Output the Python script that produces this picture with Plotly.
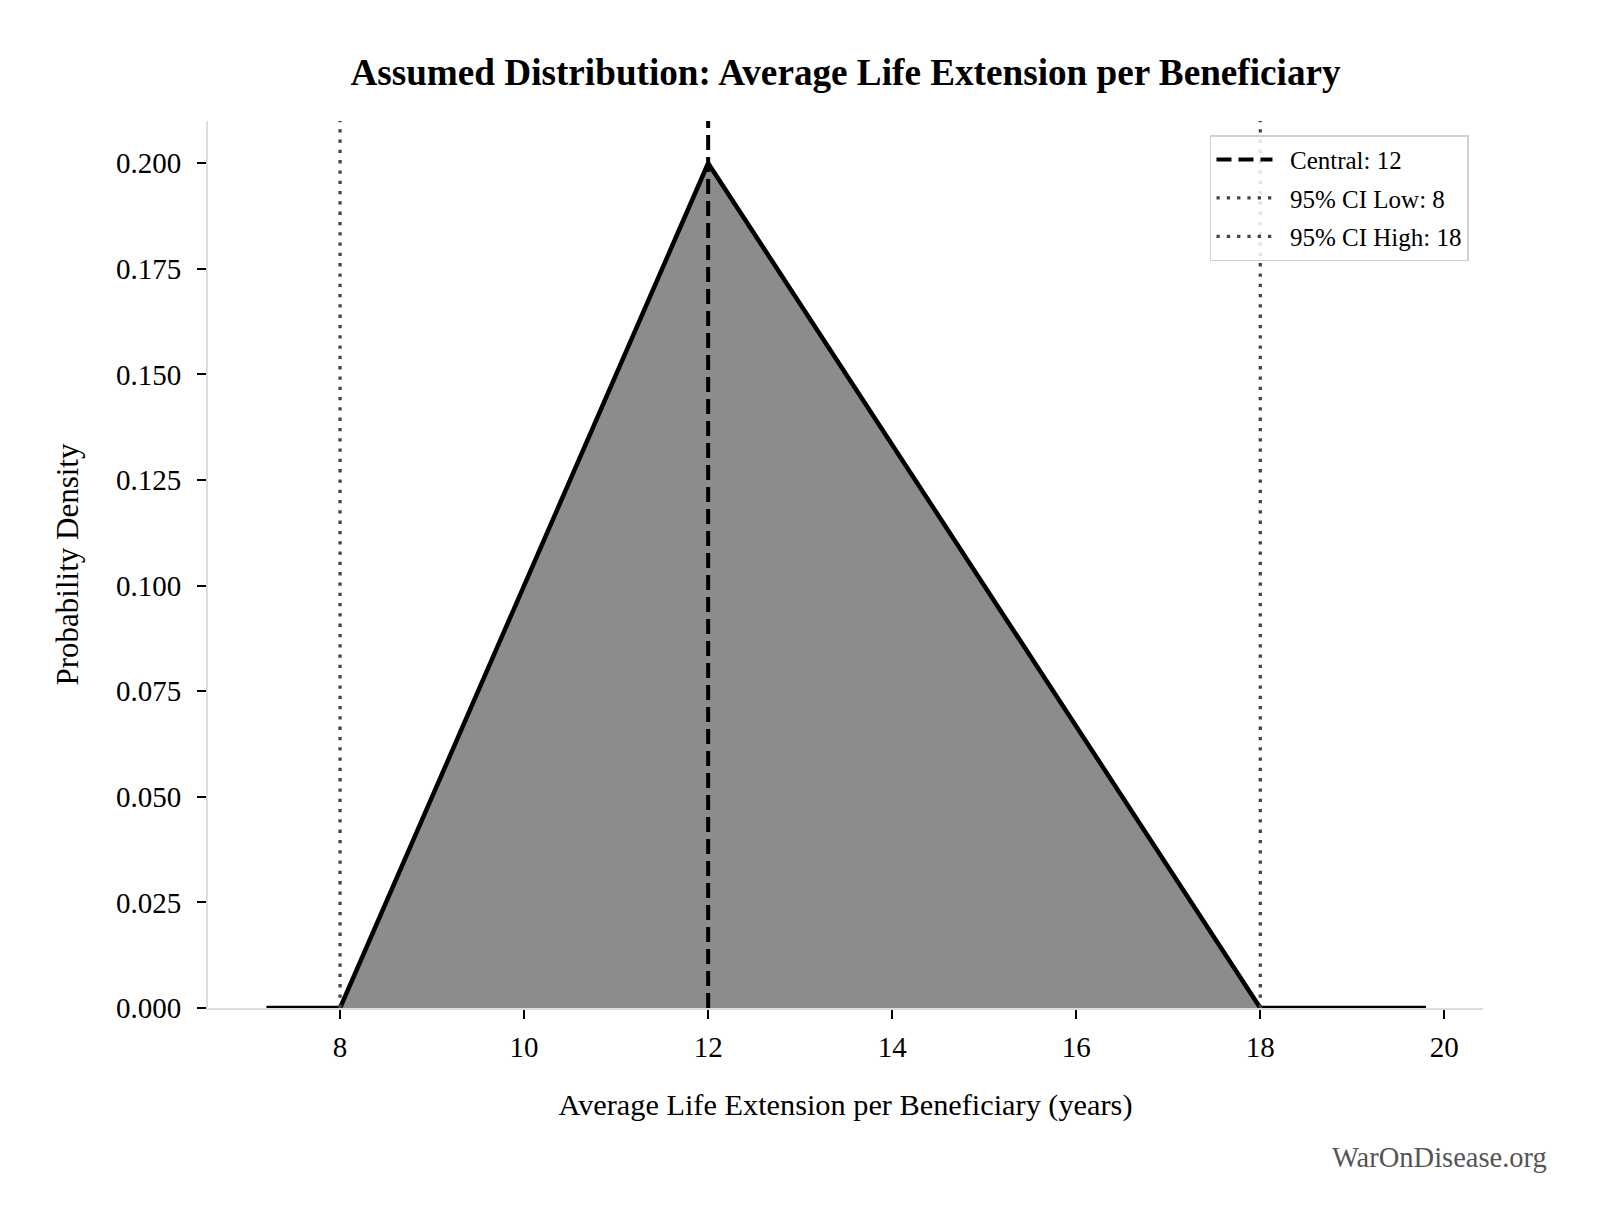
import plotly.graph_objects as go

# triangular assumption: low / mode / high, plus the plotted x span
low, central, high = 8, 12, 18
curve_x = [7.2, 8, 12, 18, 19.8]
curve_y = [0, 0, 0.2, 0, 0]
fill_x = [8, 12, 18]
fill_y = [0, 0.2, 0]

x_ticks = [8, 10, 12, 14, 16, 18, 20]
y_ticks = [0, 0.025, 0.05, 0.075, 0.1, 0.125, 0.15, 0.175, 0.2]
y_top = 0.21

FONT = "Liberation Serif"
PAD = "\u00a0\u00a0"  # little gap between legend sample and label

fig = go.Figure()

# shaded triangle
fig.add_trace(go.Scatter(
    x=fill_x, y=fill_y, fill="toself", fillcolor="#8c8c8c",
    mode="none", showlegend=False, hoverinfo="skip",
))
# pdf outline
fig.add_trace(go.Scatter(
    x=curve_x, y=curve_y, mode="lines",
    line=dict(color="black", width=4.5), showlegend=False,
))

# reference lines (run full height of the axes), one legend group each so the
# rows get some breathing room like the original
fig.add_trace(go.Scatter(
    x=[central, central], y=[0, y_top], mode="lines",
    line=dict(color="black", width=4, dash="15px,7px"),
    name=f"{PAD}Central: {central}", legendgroup="c",
))
fig.add_trace(go.Scatter(
    x=[low, low], y=[0, y_top], mode="lines",
    line=dict(color="#444444", width=3.3, dash="3.3px,7px"),
    name=f"{PAD}95% CI Low: {low}", legendgroup="l",
))
fig.add_trace(go.Scatter(
    x=[high, high], y=[0, y_top], mode="lines",
    line=dict(color="#444444", width=3.3, dash="3.3px,7px"),
    name=f"{PAD}95% CI High: {high}", legendgroup="h",
))

fig.update_layout(
    width=1607, height=1230,
    paper_bgcolor="white", plot_bgcolor="white",
    margin=dict(l=200, r=132, t=113, b=230),
    font=dict(family=FONT, size=26, color="black"),
    title=dict(
        text="<b>Assumed Distribution: Average Life Extension per Beneficiary</b>",
        xref="paper", x=0.5, xanchor="center", y=0.948, yanchor="middle",
        font=dict(size=37.2, family=FONT),
    ),
    legend=dict(
        x=0.989, xanchor="right", y=0.984, yanchor="top",
        bordercolor="#d0d0d0", borderwidth=1.5, bgcolor="rgba(255,255,255,0.85)",
        font=dict(size=25, family=FONT), itemwidth=56, tracegroupgap=3,
    ),
    showlegend=True,
)

fig.update_xaxes(
    range=[6.565, 20.42], tickvals=x_ticks,
    showgrid=False, zeroline=False,
    showline=True, linecolor="#dddddd", linewidth=2,
    ticks="outside", ticklen=9, tickwidth=2, tickcolor="black",
    tickfont=dict(size=29), ticklabelstandoff=3,
    title=dict(text="Average Life Extension per Beneficiary (years)",
               font=dict(size=30.3), standoff=32),
)
fig.update_yaxes(
    range=[0, y_top], tickvals=y_ticks, tickformat=".3f",
    showgrid=False, zeroline=False,
    showline=True, linecolor="#dddddd", linewidth=2,
    ticks="outside", ticklen=9, tickwidth=2, tickcolor="black",
    tickfont=dict(size=29), ticklabelstandoff=10,
    title=dict(text="Probability Density", font=dict(size=31), standoff=28),
)

fig.add_annotation(
    text="WarOnDisease.org", xref="paper", yref="paper",
    x=1.052, xanchor="right", y=-0.169, yanchor="middle",
    showarrow=False, font=dict(size=28.5, color="#555555", family=FONT),
)

fig.write_html("out.html")
